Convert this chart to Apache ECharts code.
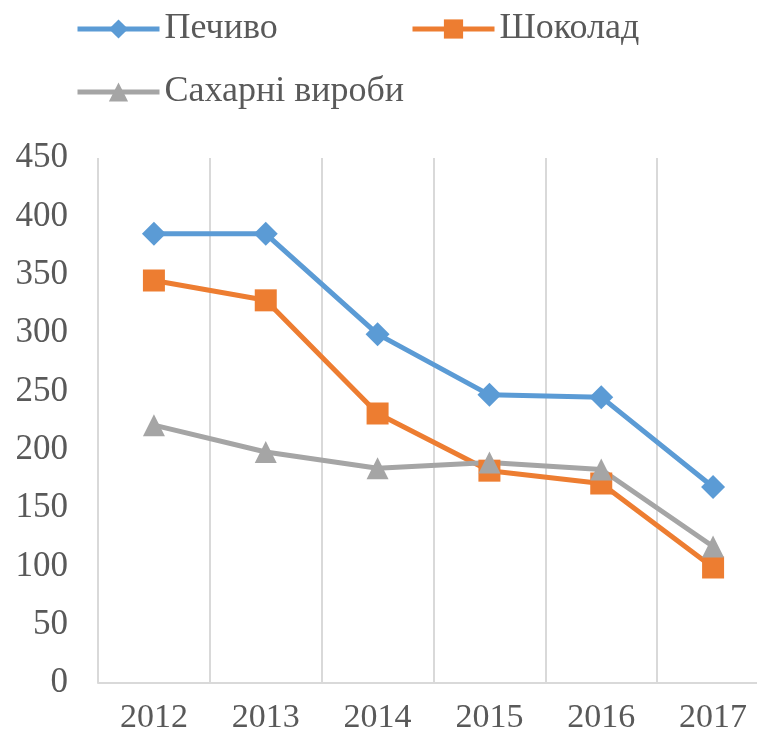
<!DOCTYPE html>
<html>
<head>
<meta charset="utf-8">
<script src="https://cdn.jsdelivr.net/npm/echarts@6/dist/echarts.min.js"></script>
<style>
  html, body { margin: 0; padding: 0; background: #fff; overflow: hidden; }
  #main { width: 769px; height: 736px; }
</style>
</head>
<body>
<div id="main"></div>
<script type="text/javascript">
    var years = ['2012', '2013', '2014', '2015', '2016', '2017'];
    var pechyvo = [385, 385, 299, 247, 245, 168];
    var shokolad = [345, 328, 231, 182, 171, 99];
    var sakharni = [221, 198, 184, 189, 183, 117];

    var textColor = '#595959';
    var gridColor = '#d9d9d9';
    var font = 'Liberation Serif';

    var myChart = echarts.init(document.getElementById('main'));

    function legendAt(name, left, top) {
        return {
            data: [name],
            left: left,
            top: top,
            itemWidth: 82,
            itemHeight: 24,
            lineStyle: { width: 5 },
            textStyle: { fontFamily: font, fontSize: 36, color: textColor }
        };
    }

    var option = {
        animation: false,
        legend: [
            legendAt('Печиво', 70, 6),
            legendAt('Шоколад', 405, 6),
            legendAt('Сахарні вироби', 70, 69)
        ],
        grid: { left: 98, right: 0, top: 158, bottom: 53 },
        xAxis: {
            type: 'category',
            boundaryGap: true,
            data: years,
            axisTick: { show: false },
            axisLine: { lineStyle: { color: gridColor, width: 2 } },
            splitLine: { show: true, lineStyle: { color: gridColor, width: 2 } },
            axisLabel: { fontFamily: font, fontSize: 34, color: textColor, margin: 18 }
        },
        yAxis: {
            type: 'value',
            min: 0,
            max: 450,
            interval: 50,
            axisLine: { show: false },
            axisTick: { show: false },
            splitLine: { show: false },
            axisLabel: { fontFamily: font, fontSize: 35, color: textColor, margin: 30 }
        },
        series: [
            {
                name: 'Печиво',
                type: 'line',
                data: pechyvo,
                symbol: 'diamond',
                symbolSize: 24,
                color: '#5B9BD5',
                lineStyle: { width: 5 }
            },
            {
                name: 'Шоколад',
                type: 'line',
                data: shokolad,
                symbol: 'rect',
                symbolSize: 22,
                color: '#ED7D31',
                lineStyle: { width: 5 }
            },
            {
                name: 'Сахарні вироби',
                type: 'line',
                data: sakharni,
                symbol: 'triangle',
                symbolSize: 22,
                color: '#A5A5A5',
                lineStyle: { width: 5 }
            }
        ]
    };

    myChart.setOption(option);
</script>
</body>
</html>
